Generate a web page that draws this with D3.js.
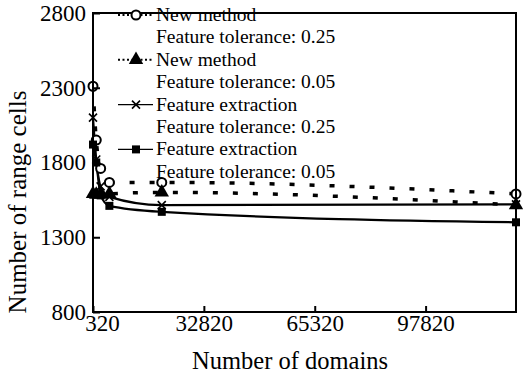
<!DOCTYPE html>
<html><head><meta charset="utf-8">
<script src="https://cdn.jsdelivr.net/npm/d3@7"></script>
<style>
html,body{margin:0;padding:0;background:#fff;}
svg#c, svg#c text, svg#c g text{font-family:"Liberation Serif","Times New Roman",serif !important;}
</style></head>
<body><svg id="c" width="523" height="380" style="font-family:'Liberation Serif'"></svg>
<script>
const domains = [320, 1280, 2560, 5120, 20480, 124320];
const newMethod025 = [2310, 1950, 1760, 1667, 1667, 1590];
const newMethod005 = [1590, 1585, 1585, 1590, 1600, 1515];
const featExt025 = [2100, 1820, 1640, 1570, 1515, 1520];
const featExt005 = [1920, 1800, 1580, 1510, 1470, 1400];
const xTicks = [320, 32820, 65320, 97820];
const yTicks = [800, 1300, 1800, 2300, 2800];
const legendLabels = [
  ["New method", "Feature tolerance: 0.25"],
  ["New method", "Feature tolerance: 0.05"],
  ["Feature extraction", "Feature tolerance: 0.25"],
  ["Feature extraction", "Feature tolerance: 0.05"]
];
const xTitle = "Number of domains";
const yTitle = "Number of range cells";

const FONT = "Liberation Serif";
const svg = d3.select("#c");
const L = 93, R = 516, T = 13, B = 312;
const x = d3.scaleLinear().domain([320, 124320]).range([L, R]);
const y = d3.scaleLinear().domain([800, 2800]).range([B, T]);

const series = [
  {vals: newMethod025, dash: "5,15", marker: "circle"},
  {vals: newMethod005, dash: "5,15", marker: "triangle"},
  {vals: featExt025, dash: null, marker: "cross"},
  {vals: featExt005, dash: null, marker: "square"}
];

const line = d3.line().x(d => x(d[0])).y(d => y(d[1])).curve(d3.curveMonotoneX);

function drawMarker(g, type, cx, cy) {
  if (type === "circle") {
    g.append("circle").attr("cx", cx).attr("cy", cy).attr("r", 4.5)
      .attr("fill", "#fff").attr("stroke", "#000").attr("stroke-width", 2);
  } else if (type === "triangle") {
    g.append("path").attr("d", d3.symbol().type(d3.symbolTriangle).size(90)())
      .attr("transform", `translate(${cx},${cy})`).attr("fill", "#000");
  } else if (type === "cross") {
    g.append("path").attr("d", `M${cx-4},${cy-4}L${cx+4},${cy+4}M${cx-4},${cy+4}L${cx+4},${cy-4}`)
      .attr("stroke", "#000").attr("stroke-width", 1.6);
  } else {
    g.append("rect").attr("x", cx-4).attr("y", cy-4).attr("width", 8).attr("height", 8).attr("fill", "#000");
  }
}

const plot = svg.append("g");
series.forEach(s => {
  const pts = domains.map((d, i) => [d, s.vals[i]]);
  plot.append("path").attr("d", line(pts)).attr("fill", "none").attr("stroke", "#000")
    .attr("stroke-width", s.dash ? 3.5 : 2.2).attr("stroke-dasharray", s.dash);
});
series.forEach(s => {
  domains.forEach((d, i) => drawMarker(plot, s.marker, x(d), y(s.vals[i])));
});

// frame
svg.append("rect").attr("x", L).attr("y", T).attr("width", R-L).attr("height", B-T)
  .attr("fill", "none").attr("stroke", "#000").attr("stroke-width", 2);

// axes
const yAxis = svg.append("g").attr("transform", `translate(${L},0)`)
  .call(d3.axisLeft(y).tickValues(yTicks).tickSize(-7).tickPadding(7).tickFormat(d3.format("d")));
yAxis.attr("font-family", null).attr("font-size", null);
yAxis.select(".domain").remove();
yAxis.selectAll("line").attr("stroke-width", 2);
yAxis.selectAll("text").style("font-size", "23px").style("font-family", `"${FONT}"`).attr("fill", "#000");

const xAxis = svg.append("g").attr("transform", `translate(0,${B})`)
  .call(d3.axisBottom(x).tickValues(xTicks).tickSize(-6).tickPadding(3).tickFormat(d3.format("d")));
xAxis.attr("font-family", null).attr("font-size", null);
xAxis.select(".domain").remove();
xAxis.selectAll("line").attr("stroke-width", 2);
xAxis.selectAll("text").style("font-size", "23px").style("font-family", `"${FONT}"`).attr("fill", "#000")
  .attr("dx", d => d === 320 ? 9 : 0);

svg.append("text").attr("x", 290).attr("y", 369).attr("text-anchor", "middle")
  .attr("font-size", 24.5).style("font-family", `"${FONT}"`).text(xTitle);
svg.append("text").attr("transform", "translate(26,202) rotate(-90)").attr("text-anchor", "middle")
  .attr("font-size", 25).style("font-family", `"${FONT}"`).text(yTitle);

// legend
const lg = svg.append("g");
const rowH = 22.4, base0 = 21;
legendLabels.forEach((lab, i) => {
  const b1 = base0 + i * 2 * rowH;
  const b2 = b1 + rowH;
  const ly = b1 - 6;
  const s = series[i];
  lg.append("line").attr("x1", 118).attr("x2", 153).attr("y1", ly).attr("y2", ly)
    .attr("stroke", "#000").attr("stroke-width", s.dash ? 2 : 1.4)
    .attr("stroke-dasharray", s.dash ? "2,2.5" : null);
  drawMarker(lg, s.marker, 136, ly);
  lg.append("text").attr("x", 156).attr("y", b1).attr("font-size", 19.5).style("font-family", `"${FONT}"`).text(lab[0]);
  lg.append("text").attr("x", 156).attr("y", b2).attr("font-size", 19.5).style("font-family", `"${FONT}"`).text(lab[1]);
});
</script></body></html>
